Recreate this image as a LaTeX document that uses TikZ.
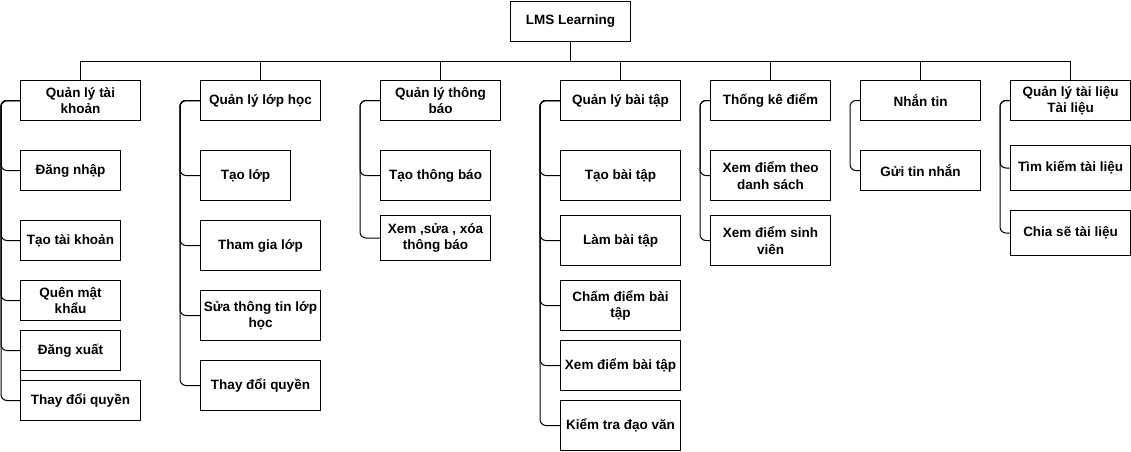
\documentclass[tikz,border=0pt]{standalone}
\usepackage{fontspec}
\setmainfont{Liberation Sans}
\begin{document}
\begin{tikzpicture}[x=1pt,y=-1pt,
  box/.style={draw, line width=1pt, font=\bfseries\fontsize{13.5}{16.5}\selectfont, align=center, inner sep=0pt, anchor=north west},
  sz/.style 2 args={minimum width=#1pt, minimum height=#2pt},
  line/.style={draw, line width=1pt},
  conn/.style={draw, line width=1pt, rounded corners=6pt}]
\useasboundingbox (0,0) rectangle (1131,451);
\node[box, sz={120}{40}] (r) at (510,0.5) {LMS Learning};
% column 1
\node[box, sz={120}{40}] (h1) at (20,80) {Quản lý tài\\khoản};
\node[box, sz={100}{40}] (c11) at (20,150) {Đăng nhập};
\node[box, sz={100}{40}] (c12) at (20,220) {Tạo tài khoản};
\node[box, sz={100}{40}] (c13) at (20,280) {Quên mật\\khẩu};
\node[box, sz={100}{40}] (c14) at (20,330) {Đăng xuất};
\node[box, sz={120}{40}] (c15) at (20,380) {Thay đổi quyền};
% column 2
\node[box, sz={120}{40}] (h2) at (200,80) {Quản lý lớp học};
\node[box, sz={90}{50}] (c21) at (200,150) {Tạo lớp};
\node[box, sz={120}{50}] (c22) at (200,220) {Tham gia lớp};
\node[box, sz={120}{50}] (c23) at (200,290) {Sửa thông tin lớp\\học};
\node[box, sz={120}{50}] (c24) at (200,360) {Thay đổi quyền};
% column 3
\node[box, sz={120}{40}] (h3) at (380,80) {Quản lý thông\\báo};
\node[box, sz={110}{50}] (c31) at (380,150) {Tạo thông báo};
\node[box, sz={110}{45}] (c32) at (380,215) {Xem ,sửa , xóa\\thông báo};
% column 4
\node[box, sz={120}{40}] (h4) at (560,80) {Quản lý bài tập};
\node[box, sz={120}{50}] (c41) at (560,150) {Tạo bài tập};
\node[box, sz={120}{50}] (c42) at (560,215) {Làm bài tập};
\node[box, sz={120}{50}] (c43) at (560,280) {Chấm điểm bài\\tập};
\node[box, sz={120}{50}] (c44) at (560,340) {Xem điểm bài tập};
\node[box, sz={120}{50}] (c45) at (560,400) {Kiểm tra đạo văn};
% column 5
\node[box, sz={120}{40}] (h5) at (710,80) {Thống kê điểm};
\node[box, sz={120}{50}] (c51) at (710,150) {Xem điểm theo\\danh sách};
\node[box, sz={120}{50}] (c52) at (710,215) {Xem điểm sinh\\viên};
% column 6
\node[box, sz={120}{40}] (h6) at (860,80) {Nhắn tin};
\node[box, sz={120}{40}] (c61) at (860,150) {Gửi tin nhắn};
% column 7
\node[box, sz={120}{40}] (h7) at (1010,80) {Quản lý tài liệu\\Tài liệu};
\node[box, sz={120}{45}] (c71) at (1010,145) {Tìm kiếm tài liệu};
\node[box, sz={120}{45}] (c72) at (1010,210) {Chia sẽ tài liệu};
% bus
\draw[line] (r.south) -- ++(0,20) coordinate (bus);
\foreach \h in {h1,h2,h3,h4,h5,h6,h7}
  \draw[line] (\h.north) |- (bus);
% branch connectors
\foreach \h/\c/\s in {h1/c11/19,h1/c12/19,h1/c13/19,h1/c14/19,h1/c15/19,
  h2/c21/20,h2/c22/20,h2/c23/20,h2/c24/20,
  h3/c31/20,h3/c32/20,
  h4/c41/20,h4/c42/20,h4/c43/20,h4/c44/20,h4/c45/20,
  h5/c51/10,h5/c52/10,
  h6/c61/10,
  h7/c71/10,h7/c72/10}
  \draw[conn] (\h.west) -| ([xshift=-\s pt]\c.west) -- (\c.west);
\draw[line] (c14.south west) -- (c15.north west);
\end{tikzpicture}
\end{document}
